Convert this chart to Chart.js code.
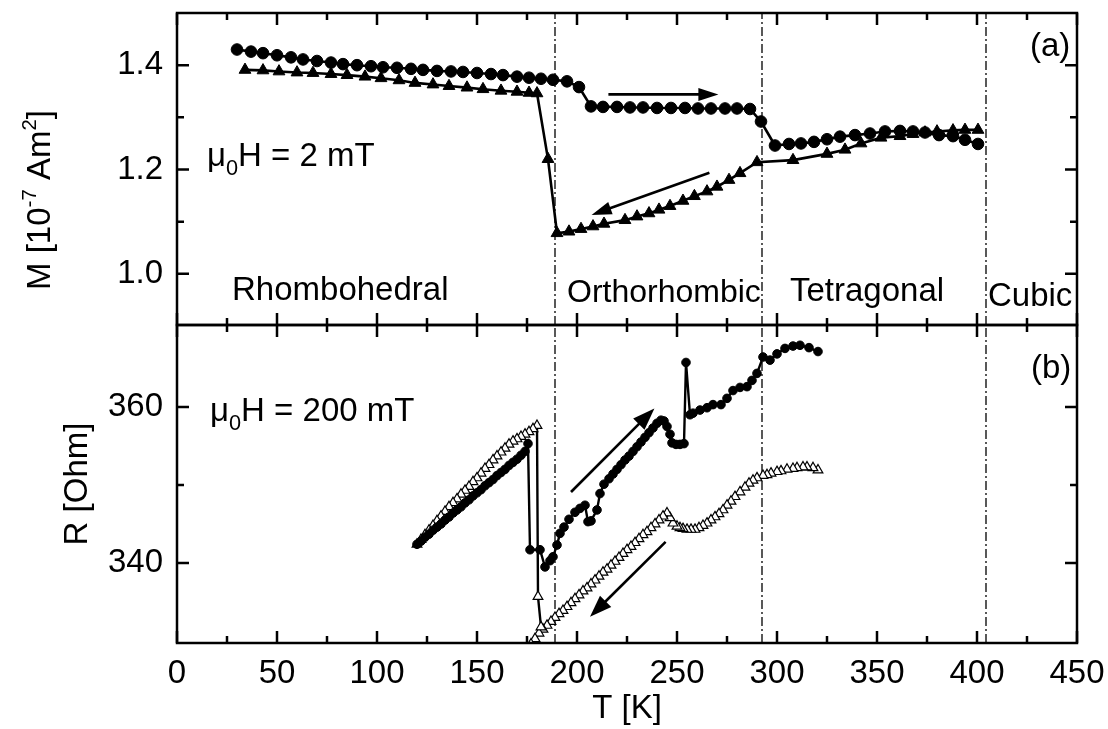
<!DOCTYPE html>
<html><head><meta charset="utf-8">
<script src="https://cdn.jsdelivr.net/npm/chart.js@4.4.0/dist/chart.umd.min.js"></script>
<style>
html,body{margin:0;padding:0;background:#fff;}
#wrap{position:relative;width:1108px;height:729px;overflow:hidden;background:#fff;}
canvas{position:absolute;left:0;}
#c1{top:0;} #c2{top:300px;}
</style></head><body>
<div id="wrap"><canvas id="c1" width="1108" height="340"></canvas><canvas id="c2" width="1108" height="429"></canvas></div>
<script>
// ---------- data ----------
const xTickValues = [0,50,100,150,200,250,300,350,400,450];
const xMinorValues = [25,75,125,175,225,275,325,375,425];
const mTickValues = [1.0,1.2,1.4];
const mMinorValues = [1.1,1.3];
const rTickValues = [340,360];
const rMinorValues = [350];
const phaseT = [189, 292.5, 404.5];

// (a) magnetisation, heating (filled circles)
const mHeatT = [30,37,43,50,57,63,70,77,83,90,97,103,110,117,123,130,137,143,150,157,163,170,176,182,188,195,
  201,207,213,220,226.5,233,240,247,254,260.5,267,274,280,286.5,292,299,
  306,312,318.5,325,331.5,339,346.5,354,361.5,368,374,381,388,394,400.5];
const mHeat = [1.430,1.426,1.423,1.419,1.415,1.411,1.408,1.405,1.402,1.400,1.398,1.396,1.395,1.393,1.391,1.389,1.388,1.387,1.385,1.383,1.381,1.378,1.376,1.374,1.372,1.369,
  1.358,1.321,1.320,1.320,1.319,1.319,1.318,1.318,1.318,1.317,1.317,1.317,1.317,1.316,1.292,1.246,
  1.249,1.250,1.253,1.258,1.263,1.266,1.269,1.273,1.274,1.273,1.271,1.266,1.264,1.257,1.249];
// (a) magnetisation, cooling (filled triangles)
const mCoolT = [400.5,394,388,380,374,368,361.5,352,342,334,325,308,290,281.5,276,270,265,258.7,253,246.5,241,236,230,224,213.5,208,202,196,190,
  185.5,180,176,170,162,153,145,136,128,119,111,102,94,85,77,68,60,51,43,34];
const mCool = [1.276,1.276,1.275,1.273,1.271,1.268,1.264,1.261,1.250,1.238,1.230,1.218,1.214,1.193,1.180,1.167,1.158,1.149,1.140,1.130,1.123,1.116,1.110,1.103,1.096,1.091,1.086,1.081,1.078,
  1.220,1.346,1.347,1.349,1.351,1.354,1.357,1.360,1.363,1.366,1.371,1.375,1.378,1.381,1.383,1.385,1.386,1.388,1.390,1.391];

// (b) resistance, heating (filled circles)
const rHeatT = [120,122,124,126,128,130,132,134,136,138,140,142,144,146,148,150,152,154,156,158,160,162,164,166,168,170,172,174,175.5,
  176.5,181.5,184,186.5,188,190,191.5,193.5,196,199,201.5,204,205.5,207,210,211.5,213.5,
  216,218,220,222,224,226,228,230,232,234,236,238,240,242,
  243.5,245,246.5,247.5,249.5,251.5,253.5,254.5,
  256.5,258,261.5,265,268,272,275,278,281.5,285,287.5,290,293,296.5,300,304,308,311.5,316,320.5];
const rHeat = [342.4,342.8,343.3,343.7,344.2,344.6,345.0,345.5,345.9,346.4,346.8,347.2,347.7,348.1,348.6,349.0,349.4,349.9,350.3,350.7,351.2,351.6,352.0,352.5,352.9,353.3,353.8,354.3,355.3,
  341.7,341.7,339.5,340.3,340.8,342.3,343.8,344.6,345.6,346.5,347.0,347.4,345.3,345.4,346.8,348.9,350.1,
  350.8,351.4,352.0,352.6,353.2,353.7,354.3,354.9,355.5,356.1,356.7,357.3,357.9,358.3,
  358.2,357.5,356.5,355.4,355.2,355.2,355.3,365.7,
  359.0,359.2,359.6,359.9,360.3,360.3,361.1,362.1,362.5,362.6,363.4,364.3,366.4,366.0,366.8,367.5,367.8,367.9,367.6,367.1];
// (b) resistance, cooling (open triangles)
const rCoolT = [320.5,318,315,313,310,308,305,302,300,297,295,293,290,288,286,284,281.5,279,277,275,273,271,269,267,265,263,261,259,257,255,253,251.5,250,248,246.5,245,
  243,241,239,237,235,233,231,229,227,225,223,221,219,217,215,213,211,209,207,205,203,201,199,197,195,193,191,189,187,185,183,181,179,177,
  182,180.5,
  180,178,176,174,172,170,168,166,164,162,160,158,156,154,152,150,148,146,144,142,140,138,136,134,132,130,128,126,124,122,120];
const rCool = [351.9,352.2,352.3,352.3,352.2,352.1,352.0,351.8,351.7,351.5,351.3,351.2,350.9,350.6,350.2,349.7,349.1,348.5,347.9,347.4,346.8,346.3,345.9,345.5,345.1,344.8,344.5,344.3,344.3,344.3,344.4,344.5,344.7,345.1,345.8,346.4,
  346.0,345.5,345.0,344.5,344.0,343.6,343.1,342.6,342.1,341.7,341.2,340.7,340.2,339.7,339.2,338.8,338.3,337.8,337.3,336.8,336.4,335.9,335.4,334.9,334.4,333.9,333.5,333.0,332.5,332.0,331.5,331.0,330.3,329.6,
  331.8,335.7,
  357.6,357.2,356.8,356.5,356.2,355.9,355.6,355.2,354.7,354.2,353.7,353.2,352.6,352.1,351.5,350.9,350.4,349.8,349.3,348.8,348.2,347.7,347.2,346.6,346.0,345.4,344.8,344.2,343.6,343.0,342.4];

// arrows (data coordinates: [T1, v1, T2, v2])
const arrowsA = [[215.7,1.344,270.7,1.344],[266.2,1.194,207.3,1.113]];
const arrowsB = [[197,349.1,238.7,359.8],[244.3,342.7,206.5,333.1]];

// ---------- helpers ----------
const FONT = "'Liberation Sans', Arial, Helvetica, sans-serif";
const zip = (xs, ys) => xs.map((v,i)=>({x:v, y:ys[i]}));

function drawArrow(ctx, x1,y1,x2,y2, len, half, lw){
  const ang=Math.atan2(y2-y1,x2-x1);
  const bx=x2-len*Math.cos(ang), by=y2-len*Math.sin(ang);
  ctx.beginPath(); ctx.lineWidth=lw; ctx.moveTo(x1,y1); ctx.lineTo(bx+2*Math.cos(ang),by+2*Math.sin(ang)); ctx.stroke();
  ctx.beginPath(); ctx.moveTo(x2,y2);
  ctx.lineTo(bx+half*Math.sin(ang), by-half*Math.cos(ang));
  ctx.lineTo(bx-half*Math.sin(ang), by+half*Math.cos(ang));
  ctx.closePath(); ctx.fill();
}
function richText(ctx, parts, x, y, size){
  let cx = x;
  parts.forEach(p=>{
    let s=size, dy=0;
    if (p.sub){ s=size*0.66; dy=size*0.28; }
    if (p.sup){ s=size*0.62; dy=-size*0.42; }
    ctx.font = s+'px '+FONT;
    ctx.fillText(p.t, cx, y+dy);
    cx += ctx.measureText(p.t).width;
  });
  return cx-x;
}
function richWidth(ctx, parts, size){
  let w=0;
  parts.forEach(p=>{ let s=size; if(p.sub) s=size*0.66; if(p.sup) s=size*0.62; ctx.font=s+'px '+FONT; w+=ctx.measureText(p.t).width; });
  return w;
}
function noPad(s){ s.paddingTop=0; s.paddingBottom=0; s.paddingLeft=0; s.paddingRight=0; }

const framePlugin = {
  id:'frame',
  afterDatasetsDraw(chart, args, o){
    const {ctx, chartArea:a} = chart;
    const xs = chart.scales.x, ys = chart.scales.y;
    ctx.save();
    ctx.strokeStyle='#000'; ctx.fillStyle='#000'; ctx.lineWidth=2.5; ctx.lineCap='butt';
    ctx.strokeRect(a.left,a.top,a.right-a.left,a.bottom-a.top);
    ctx.beginPath();
    const t=(px,py,dx,dy)=>{ctx.moveTo(px,py);ctx.lineTo(px+dx,py+dy);};
    xTickValues.forEach(v=>{const p=xs.getPixelForValue(v); t(p,a.top,0,12); t(p,a.bottom,0,-12);});
    xMinorValues.forEach(v=>{const p=xs.getPixelForValue(v); t(p,a.top,0,7); t(p,a.bottom,0,-7);});
    o.yMajor.forEach(v=>{const p=ys.getPixelForValue(v); t(a.left,p,12,0); t(a.right,p,-12,0);});
    o.yMinor.forEach(v=>{const p=ys.getPixelForValue(v); t(a.left,p,7,0); t(a.right,p,-7,0);});
    ctx.stroke();
    o.arrows.forEach(ar=>{
      drawArrow(ctx, xs.getPixelForValue(ar[0]), ys.getPixelForValue(ar[1]), xs.getPixelForValue(ar[2]), ys.getPixelForValue(ar[3]), o.headLen, o.headHalf, 2.6);
    });
    ctx.textBaseline='alphabetic'; ctx.textAlign='left';
    o.texts.forEach(tx=>{ richText(ctx, tx.parts, tx.x, tx.y - o.offsetY, tx.size); });
    if (o.rotLabel){
      const L=o.rotLabel;
      ctx.translate(L.x, L.cy - o.offsetY); ctx.rotate(-Math.PI/2);
      const w=richWidth(ctx, L.parts, L.size);
      richText(ctx, L.parts, -w/2, 0, L.size);
    }
    ctx.restore();
  }
};

function phaseSets(ymin, ymax){
  return phaseT.map(T=>({data:[{x:T,y:ymin},{x:T,y:ymax}], showLine:true, borderColor:'#000', borderWidth:1.3,
    borderDash:[9,3,2,3], pointRadius:0, order:10, clip:false}));
}
const yAxisBase = (min,max,vals)=>({
  min, max, position:'left',
  afterFit: s=>{ s.width=177; noPad(s); },
  afterBuildTicks: s=>{ s.ticks = vals.map(v=>({value:v})); },
  grid:{display:false, drawTicks:false}, border:{display:false},
  ticks:{font:{family:FONT,size:33}, color:'#000', padding:14}
});

// ---------- top chart (a) ----------
const M_MIN=0.902, M_MAX=1.5;
new Chart(document.getElementById('c1'), {
  type:'scatter',
  data:{datasets:[
    {data:zip(mHeatT,mHeat), showLine:true, borderColor:'#000', borderWidth:2.6, pointStyle:'circle', pointRadius:5.8,
     pointBackgroundColor:'#000', pointBorderColor:'#000', pointBorderWidth:1, order:1},
    {data:zip(mCoolT,mCool), showLine:true, borderColor:'#000', borderWidth:2.6, pointStyle:'triangle', pointRadius:6.8,
     pointBackgroundColor:'#000', pointBorderColor:'#000', pointBorderWidth:1, order:2},
    ...phaseSets(M_MIN,M_MAX)
  ]},
  options:{
    responsive:false, devicePixelRatio:1, animation:false,
    layout:{padding:{top:13,right:31,bottom:15,left:0}},
    plugins:{legend:{display:false}, tooltip:{enabled:false},
      frame:{yMajor:mTickValues, yMinor:mMinorValues, arrows:arrowsA, headLen:20, headHalf:6.5, offsetY:0,
        texts:[
          {parts:[{t:'μ'},{t:'0',sub:true},{t:'H = 2 mT'}], x:207, y:166, size:33},
          {parts:[{t:'Rhombohedral'}], x:232, y:300, size:33},
          {parts:[{t:'Orthorhombic'}], x:567, y:302, size:32},
          {parts:[{t:'Tetragonal'}], x:790, y:301, size:33},
          {parts:[{t:'Cubic'}], x:988, y:306, size:33},
          {parts:[{t:'(a)'}], x:1030, y:56, size:33}
        ],
        rotLabel:{parts:[{t:'M [10'},{t:'-7',sup:true},{t:' Am'},{t:'2',sup:true},{t:']'}], x:50, cy:200, size:33}
      }},
    scales:{
      x:{type:'linear', min:0, max:450, display:false},
      y:Object.assign(yAxisBase(M_MIN,M_MAX,mTickValues), {ticks:{font:{family:FONT,size:33}, color:'#000', padding:14, callback:v=>v.toFixed(1)}})
    }
  },
  plugins:[framePlugin]
});

// ---------- bottom chart (b) ----------
const R_MIN=329.75, R_MAX=370.5;
new Chart(document.getElementById('c2'), {
  type:'scatter',
  data:{datasets:[
    {data:zip(rHeatT,rHeat), showLine:true, borderColor:'#000', borderWidth:2.4, pointStyle:'circle', pointRadius:4.3,
     pointBackgroundColor:'#000', pointBorderColor:'#000', pointBorderWidth:1, order:1},
    {data:zip(rCoolT,rCool), showLine:true, borderColor:'#000', borderWidth:2.4, pointStyle:'triangle', pointRadius:5.6,
     pointBackgroundColor:'#fff', pointBorderColor:'#000', pointBorderWidth:1.2, order:2},
    ...phaseSets(R_MIN,R_MAX)
  ]},
  options:{
    responsive:false, devicePixelRatio:1, animation:false,
    layout:{padding:{top:25,right:31,bottom:0,left:0}},
    plugins:{legend:{display:false}, tooltip:{enabled:false},
      frame:{yMajor:rTickValues, yMinor:rMinorValues, arrows:arrowsB, headLen:22, headHalf:8, offsetY:300,
        texts:[
          {parts:[{t:'μ'},{t:'0',sub:true},{t:'H = 200 mT'}], x:210, y:421, size:33},
          {parts:[{t:'(b)'}], x:1031, y:378, size:33}
        ]
      }},
    scales:{
      x:{type:'linear', min:0, max:450, position:'bottom',
        afterFit: s=>{ s.height=86; noPad(s); },
        afterBuildTicks: s=>{ s.ticks = xTickValues.map(v=>({value:v})); },
        grid:{display:false, drawTicks:false}, border:{display:false},
        ticks:{font:{family:FONT,size:33}, color:'#000', padding:11, maxRotation:0, autoSkip:false},
        title:{display:true, text:'T [K]', font:{family:FONT,size:33}, color:'#000', padding:{top:0,bottom:0}}
      },
      y:Object.assign(yAxisBase(R_MIN,R_MAX,rTickValues), {
        title:{display:true, text:'R [Ohm]', font:{family:FONT,size:33}, color:'#000', padding:{top:58,bottom:0}}
      })
    }
  },
  plugins:[framePlugin]
});
</script>
</body></html>
